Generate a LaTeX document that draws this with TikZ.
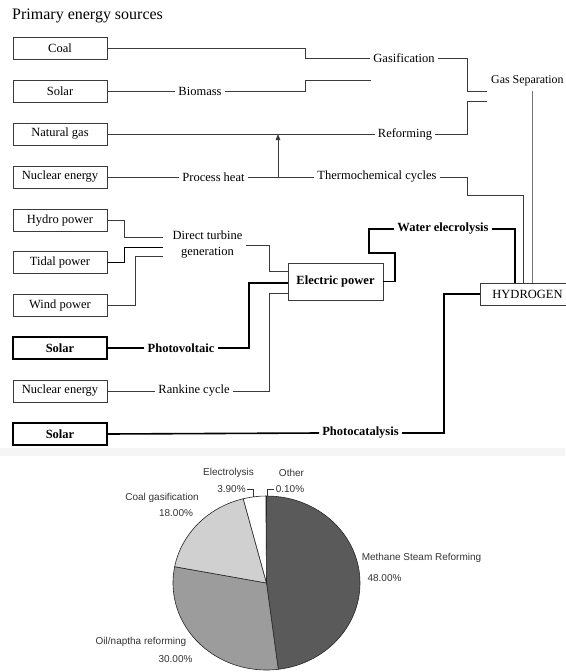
\documentclass[tikz,border=0pt]{standalone}
\usepackage{fontspec}
\setmainfont{Liberation Serif}
\newfontfamily\piefont{Liberation Sans}
\usetikzlibrary{arrows.meta}
\definecolor{thinline}{HTML}{3A3A3A}
\definecolor{methane}{HTML}{5A5A5A}
\definecolor{oil}{HTML}{9C9C9C}
\definecolor{coalc}{HTML}{D0D0D0}
\definecolor{pietext}{HTML}{333333}
\tikzset{
  srcbox/.style={draw=thinline, line width=0.9pt, minimum width=94pt, minimum height=22pt, inner sep=0pt, font=\fontsize{12.5}{14}\selectfont},
  boldbox/.style={srcbox, draw=black, line width=1.8pt, font=\fontsize{12.5}{14}\selectfont\bfseries},
  lbl/.style={inner sep=3pt, font=\fontsize{12.5}{14}\selectfont},
  blbl/.style={inner sep=3pt, font=\fontsize{12.5}{14}\selectfont\bfseries},
  thin/.style={draw=thinline, line width=0.8pt},
  heavy/.style={draw=black, line width=1.6pt},
  pielbl/.style={inner sep=0pt, text=pietext, font=\piefont\fontsize{10}{12}\selectfont},
  slice/.style={draw=black!85, line width=0.6pt},
}
\begin{document}
\begin{tikzpicture}[x=1pt,y=-1pt]
\useasboundingbox (0,0) rectangle (565,672);
\fill[black!4] (0,448) rectangle (565,456);

% title
\node[anchor=west, inner sep=0pt, font=\fontsize{16}{18}\selectfont] (title) at (12,16) {Primary energy sources};

% source boxes
\node[srcbox] (coal) at (60,48) {Coal};
\node[srcbox] (solarA) at (60,91) {Solar};
\node[srcbox] (ngas) at (60,134) {Natural gas};
\node[srcbox] (nucA) at (60,177) {Nuclear energy};
\node[srcbox] (hydro) at (60,220.5) {Hydro power};
\node[srcbox] (tidal) at (60,262) {Tidal power};
\node[srcbox] (wind) at (60,305) {Wind power};
\node[boldbox] (solarB) at (60,348) {Solar};
\node[srcbox] (nucB) at (60,391) {Nuclear energy};
\node[boldbox] (solarC) at (60,434) {Solar};

% process labels
\node[lbl] (gasif) at (404,58) {Gasification};
\node[lbl] (biomass) at (200,91) {Biomass};
\node[lbl] (reform) at (405,134) {Reforming};
\node[lbl] (pheat) at (213.5,177) {Process heat};
\node[lbl] (thermo) at (377,177) {Thermochemical cycles};
\node[anchor=west, inner sep=0pt, font=\fontsize{11.9}{14}\selectfont] (gassep) at (491,81) {Gas Separation};
\node[lbl, align=center, font=\fontsize{12.5}{16}\selectfont] (dtg) at (207.5,245) {Direct turbine\\generation};
\node[blbl] (pv) at (181,348) {Photovoltaic};
\node[lbl] (rankine) at (194,391) {Rankine cycle};
\node[blbl] (photocat) at (360.5,433) {Photocatalysis};
\node[blbl] (water) at (443,229) {Water elecrolysis};

% intermediate boxes
\node[draw=thinline, line width=0.9pt, minimum width=95pt, minimum height=37pt, inner sep=0pt, font=\fontsize{12.5}{14}\selectfont\bfseries] (ep) at (335.5,281.5) {Electric power};
\node[draw=thinline, line width=0.9pt, minimum width=95pt, minimum height=22pt, inner sep=0pt, font=\fontsize{12.5}{14}\selectfont] (h2) at (527.5,294) {HYDROGEN};

% named junctions
\coordinate (gsA) at (487,91);
\coordinate (gsB) at (487,101);
\coordinate (bmend) at (371,80);
\coordinate (phA) at (278,177);
\coordinate (phB) at (278,134);
\coordinate (tc) at (523,195);
\coordinate (gsv) at (532,91);
\coordinate (d1) at (163,237);
\coordinate (d2) at (163,247);
\coordinate (d3) at (163,256);
\coordinate (e1) at (288,271);
\coordinate (e2) at (288,283);
\coordinate (e3) at (288,293);
\coordinate (wl) at (515,229);

% upper connectors
\draw[thin] (coal.east) -- (305,48) |- (gasif.west);
\draw[thin] (gasif.east) -- (467,58) |- (gsA);
\draw[thin] (solarA.east) -- (biomass.west);
\draw[thin] (biomass.east) -- (305,91) |- (bmend);
\draw[thin] (ngas.east) -- (reform.west);
\draw[thin] (reform.east) -- (467,134) |- (gsB);
\draw[thin] (nucA.east) -- (pheat.west);
\draw[thin] (pheat.east) -- (thermo.west);
\draw[thin, -{Triangle[length=6pt,width=4.5pt]}] (phA) -- (phB);
\draw[thin] (thermo.east) -- (467,177) |- (tc) -- (tc |- h2.north);
\draw[draw=black!55, line width=0.8pt] (gsv) -- (gsv |- h2.north);

% direct turbine generation
\draw[thin] (hydro.east) -- (124,220.5) |- (d1);
\draw[draw=black, line width=1pt] (tidal.east) -- (124,262) |- (d2);
\draw[thin] (wind.east) -- (135,305) |- (d3);
\draw[thin] (dtg.east) -- (269,245) |- (e1);

% photovoltaic / rankine
\draw[heavy] (solarB.east) -- (pv.west);
\draw[heavy] (pv.east) -- (249,348) |- (e2);
\draw[thin] (nucB.east) -- (rankine.west);
\draw[thin] (rankine.east) -- (269,391) |- (e3);

% water electrolysis
\draw[heavy] (ep.east) -- (395,281.5) -- (395,253) -- (369,253) -- (369,229) -- (water.west);
\draw[heavy] (water.east) -- (wl) -- (wl |- h2.north);

% photocatalysis
\draw[heavy] (solarC.east) -- (photocat.west);
\draw[heavy] (h2.west) -- (444,294) |- (photocat.east);

% pie chart
\begin{scope}[shift={(266.5,583)}]
  \filldraw[slice, fill=methane] (0,0) -- (90:93.5pt and 87pt) arc[start angle=90, end angle=-82.8, x radius=93.5pt, y radius=87pt] -- cycle;
  \filldraw[slice, fill=oil] (0,0) -- (-82.8:93.5pt and 87pt) arc[start angle=-82.8, end angle=-190.8, x radius=93.5pt, y radius=87pt] -- cycle;
  \filldraw[slice, fill=coalc] (0,0) -- (-190.8:93.5pt and 87pt) arc[start angle=-190.8, end angle=-255.6, x radius=93.5pt, y radius=87pt] -- cycle;
  \filldraw[slice, fill=white] (0,0) -- (-255.6:93.5pt and 87pt) arc[start angle=-255.6, end angle=-269.6, x radius=93.5pt, y radius=87pt] -- cycle;
  \coordinate (pc) at (0pt,0pt);
\end{scope}

% pie labels
\node[pielbl] (lel) at (228.5,473) {Electrolysis};
\node[pielbl] (lelp) at (231.5,489) {3.90\%};
\node[pielbl] (lot) at (291.5,473) {Other};
\node[pielbl] (lotp) at (290,489) {0.10\%};
\node[pielbl] (lcg) at (162,498) {Coal gasification};
\node[pielbl] (lcgp) at (176,513) {18.00\%};
\node[pielbl] (loil) at (141,642) {Oil/naptha reforming};
\node[pielbl] (loilp) at (175.5,659) {30.00\%};
\node[pielbl] (lme) at (421.5,558) {Methane Steam Reforming};
\node[pielbl] (lmep) at (384.5,578) {48.00\%};

\coordinate (eltip) at (253,497);
\coordinate (ottip) at (267,496);
\draw[draw=pietext, line width=0.5pt] ([xshift=1.5pt]lelp.east) -| (eltip);
\draw[draw=pietext, line width=0.5pt] ([xshift=-1.5pt]lotp.west) -| (ottip);
\end{tikzpicture}
\end{document}
